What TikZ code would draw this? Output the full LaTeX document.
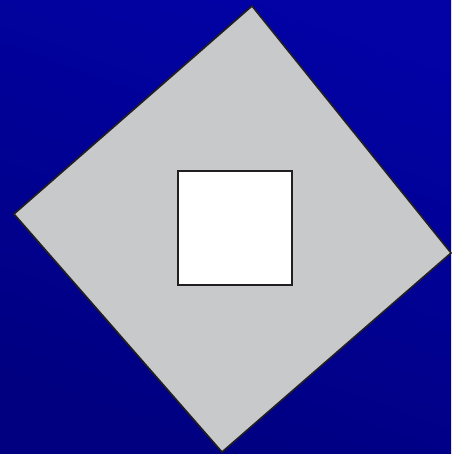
\documentclass[tikz,border=0pt]{standalone}
\usetikzlibrary{positioning}

\definecolor{bgtop}{RGB}{2,2,165}
\definecolor{bgbottom}{RGB}{0,0,128}
\definecolor{plate}{RGB}{200,201,203}
\definecolor{edge}{RGB}{35,31,32}

\begin{document}
\begin{tikzpicture}[
  x=1pt,y=-1pt,
  plate shape/.style={
    draw=edge,
    fill=plate,
    line width=1.6pt,
    line join=miter
  },
  hole shape/.style={
    draw=edge,
    fill=white,
    line width=1.6pt
  }
]

% background
\shade[top color=bgtop,bottom color=bgbottom,shading angle=-20]
  (0,0) rectangle (451,454);
\useasboundingbox (0,0) rectangle (451,454);

% rotated plate
\coordinate (plate-top) at (252,6);
\coordinate (plate-right) at (451,253);
\coordinate (plate-bottom) at (222,452);
\coordinate (plate-left) at (14,214);
\draw[plate shape] (plate-top) -- (plate-right) -- (plate-bottom)
  -- (plate-left) -- cycle;

% square hole
\draw[hole shape] (178,171) rectangle (292,285);

\end{tikzpicture}
\end{document}
